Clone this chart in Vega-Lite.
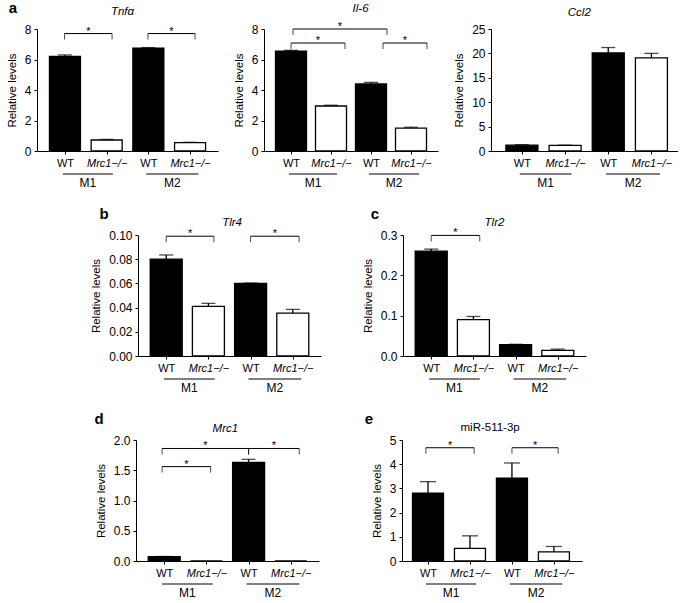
{
  "$schema": "https://vega.github.io/schema/vega-lite/v6.json",
  "padding": {"left": 6, "top": 1, "right": 0, "bottom": 0},
  "datasets": {
    "bars": [
      {"panel": "a1", "pos": 1, "genotype": "WT", "value": 6.2, "hi": 6.3},
      {"panel": "a1", "pos": 2, "genotype": "Mrc1−/−", "value": 0.72, "hi": 0.76},
      {"panel": "a1", "pos": 3, "genotype": "WT", "value": 6.75, "hi": 6.78},
      {"panel": "a1", "pos": 4, "genotype": "Mrc1−/−", "value": 0.55, "hi": 0.57},
      {"panel": "a2", "pos": 1, "genotype": "WT", "value": 6.55, "hi": 6.6},
      {"panel": "a2", "pos": 2, "genotype": "Mrc1−/−", "value": 2.95, "hi": 3.0},
      {"panel": "a2", "pos": 3, "genotype": "WT", "value": 4.4, "hi": 4.5},
      {"panel": "a2", "pos": 4, "genotype": "Mrc1−/−", "value": 1.5, "hi": 1.56},
      {"panel": "a3", "pos": 1, "genotype": "WT", "value": 1.2, "hi": 1.3},
      {"panel": "a3", "pos": 2, "genotype": "Mrc1−/−", "value": 1.15, "hi": 1.2},
      {"panel": "a3", "pos": 3, "genotype": "WT", "value": 20.1, "hi": 21.2},
      {"panel": "a3", "pos": 4, "genotype": "Mrc1−/−", "value": 19.1, "hi": 20.0},
      {"panel": "b", "pos": 1, "genotype": "WT", "value": 0.080, "hi": 0.0835},
      {"panel": "b", "pos": 2, "genotype": "Mrc1−/−", "value": 0.041, "hi": 0.0435},
      {"panel": "b", "pos": 3, "genotype": "WT", "value": 0.060, "hi": 0.0603},
      {"panel": "b", "pos": 4, "genotype": "Mrc1−/−", "value": 0.0355, "hi": 0.0385},
      {"panel": "c", "pos": 1, "genotype": "WT", "value": 0.260, "hi": 0.265},
      {"panel": "c", "pos": 2, "genotype": "Mrc1−/−", "value": 0.090, "hi": 0.098},
      {"panel": "c", "pos": 3, "genotype": "WT", "value": 0.028, "hi": 0.029},
      {"panel": "c", "pos": 4, "genotype": "Mrc1−/−", "value": 0.014, "hi": 0.017},
      {"panel": "d", "pos": 1, "genotype": "WT", "value": 0.07, "hi": 0.075},
      {"panel": "d", "pos": 2, "genotype": "Mrc1−/−", "value": 0, "hi": null},
      {"panel": "d", "pos": 3, "genotype": "WT", "value": 1.63, "hi": 1.68},
      {"panel": "d", "pos": 4, "genotype": "Mrc1−/−", "value": 0, "hi": null},
      {"panel": "e", "pos": 1, "genotype": "WT", "value": 2.8, "hi": 3.28},
      {"panel": "e", "pos": 2, "genotype": "Mrc1−/−", "value": 0.52, "hi": 1.04},
      {"panel": "e", "pos": 3, "genotype": "WT", "value": 3.42, "hi": 4.05},
      {"panel": "e", "pos": 4, "genotype": "Mrc1−/−", "value": 0.38, "hi": 0.6}
    ],
    "brackets": [
      {"panel": "a1", "x1": 0.99, "x2": 2.13, "xm": 1.56, "y": 7.7},
      {"panel": "a1", "x1": 2.99, "x2": 4.12, "xm": 3.555, "y": 7.7},
      {"panel": "a2", "x1": 1.0, "x2": 2.35, "xm": 1.675, "y": 7.08},
      {"panel": "a2", "x1": 1.05, "x2": 3.4, "xm": 2.225, "y": 8.0},
      {"panel": "a2", "x1": 3.3, "x2": 4.4, "xm": 3.85, "y": 7.08},
      {"panel": "b", "x1": 1.0, "x2": 2.13, "xm": 1.565, "y": 0.099},
      {"panel": "b", "x1": 3.0, "x2": 4.15, "xm": 3.575, "y": 0.099},
      {"panel": "c", "x1": 1.0, "x2": 2.15, "xm": 1.575, "y": 0.299},
      {"panel": "d", "x1": 0.95, "x2": 2.1, "xm": 1.525, "y": 1.56},
      {"panel": "d", "x1": 0.95, "x2": 3.0, "xm": 1.975, "y": 1.86},
      {"panel": "d", "x1": 3.0, "x2": 4.2, "xm": 3.6, "y": 1.86},
      {"panel": "e", "x1": 0.95, "x2": 2.1, "xm": 1.525, "y": 4.68},
      {"panel": "e", "x1": 3.0, "x2": 4.1, "xm": 3.55, "y": 4.68}
    ],
    "groups": [
      {"g": "M1", "x1": 0.95, "x2": 2.15, "xm": 1.55},
      {"g": "M2", "x1": 2.95, "x2": 4.2, "xm": 3.575}
    ]
  },
  "spacing": 18,
  "vconcat": [
    {
      "spacing": 15,
      "align": "none",
      "hconcat": [
        {
          "width": 181, "height": 122,
          "layer": [
            {"data": {"name": "bars"}, "transform": [{"filter": "datum.panel == 'a1'"}],
             "mark": {"type": "bar", "orient": "vertical", "width": 31, "stroke": "#000", "strokeWidth": 1.3},
             "encoding": {
               "x": {"field": "pos", "type": "quantitative", "title": null, "scale": {"domain": [0.45, 4.55], "nice": false, "zero": false}, "axis": {"values": [1, 2, 3, 4], "labelExpr": "datum.value == 1 || datum.value == 3 ? 'WT' : 'Mrc1−/−'", "labelFontStyle": {"condition": {"test": "datum.value == 2 || datum.value == 4", "value": "italic"}, "value": "normal"}}},
               "y": {"field": "value", "type": "quantitative", "title": "Relative levels", "scale": {"domain": [0, 8], "nice": false}, "axis": {"values": [0, 2, 4, 6, 8]}},
               "fill": {"field": "genotype", "type": "nominal", "scale": {"domain": ["WT", "Mrc1−/−"], "range": ["#000000", "#ffffff"]}, "legend": null}
             }},
            {"data": {"name": "bars"}, "transform": [{"filter": "datum.panel == 'a1' && datum.hi != null"}],
             "mark": {"type": "rule", "color": "#000", "strokeWidth": 1.3},
             "encoding": {"x": {"field": "pos", "type": "quantitative", "title": null, "axis": {"values": [1, 2, 3, 4], "labelExpr": "datum.value == 1 || datum.value == 3 ? 'WT' : 'Mrc1−/−'", "labelFontStyle": {"condition": {"test": "datum.value == 2 || datum.value == 4", "value": "italic"}, "value": "normal"}}}, "y": {"field": "value", "type": "quantitative", "title": "Relative levels", "axis": {"values": [0, 2, 4, 6, 8]}}, "y2": {"field": "hi"}}},
            {"data": {"name": "bars"}, "transform": [{"filter": "datum.panel == 'a1' && datum.hi != null"}],
             "mark": {"type": "tick", "orient": "horizontal", "size": 14, "thickness": 1.3, "color": "#000"},
             "encoding": {"x": {"field": "pos", "type": "quantitative", "title": null, "axis": {"values": [1, 2, 3, 4], "labelExpr": "datum.value == 1 || datum.value == 3 ? 'WT' : 'Mrc1−/−'", "labelFontStyle": {"condition": {"test": "datum.value == 2 || datum.value == 4", "value": "italic"}, "value": "normal"}}}, "y": {"field": "hi", "type": "quantitative", "title": "Relative levels", "axis": {"values": [0, 2, 4, 6, 8]}}}},
            {"data": {"name": "groups"},
             "mark": {"type": "rule", "yOffset": 23, "color": "#000", "strokeWidth": 1},
             "encoding": {"x": {"field": "x1", "type": "quantitative", "title": null, "axis": {"values": [1, 2, 3, 4], "labelExpr": "datum.value == 1 || datum.value == 3 ? 'WT' : 'Mrc1−/−'", "labelFontStyle": {"condition": {"test": "datum.value == 2 || datum.value == 4", "value": "italic"}, "value": "normal"}}}, "x2": {"field": "x2"}, "y": {"datum": 0, "type": "quantitative", "title": "Relative levels", "axis": {"values": [0, 2, 4, 6, 8]}}}},
            {"data": {"name": "groups"},
             "mark": {"type": "text", "dy": 32, "fontSize": 12, "baseline": "middle", "color": "#000"},
             "encoding": {"x": {"field": "xm", "type": "quantitative", "title": null, "axis": {"values": [1, 2, 3, 4], "labelExpr": "datum.value == 1 || datum.value == 3 ? 'WT' : 'Mrc1−/−'", "labelFontStyle": {"condition": {"test": "datum.value == 2 || datum.value == 4", "value": "italic"}, "value": "normal"}}}, "y": {"datum": 0, "type": "quantitative", "title": "Relative levels", "axis": {"values": [0, 2, 4, 6, 8]}}, "text": {"field": "g"}}},
            {"data": {"name": "brackets"}, "transform": [{"filter": "datum.panel == 'a1'"}],
             "mark": {"type": "rule", "color": "#000", "strokeWidth": 1},
             "encoding": {"x": {"field": "x1", "type": "quantitative", "title": null, "axis": {"values": [1, 2, 3, 4], "labelExpr": "datum.value == 1 || datum.value == 3 ? 'WT' : 'Mrc1−/−'", "labelFontStyle": {"condition": {"test": "datum.value == 2 || datum.value == 4", "value": "italic"}, "value": "normal"}}}, "x2": {"field": "x2"}, "y": {"field": "y", "type": "quantitative", "title": "Relative levels", "axis": {"values": [0, 2, 4, 6, 8]}}}},
            {"data": {"name": "brackets"}, "transform": [{"filter": "datum.panel == 'a1'"}],
             "mark": {"type": "tick", "orient": "vertical", "size": 6, "thickness": 1, "yOffset": 3, "color": "#000"},
             "encoding": {"x": {"field": "x1", "type": "quantitative", "title": null, "axis": {"values": [1, 2, 3, 4], "labelExpr": "datum.value == 1 || datum.value == 3 ? 'WT' : 'Mrc1−/−'", "labelFontStyle": {"condition": {"test": "datum.value == 2 || datum.value == 4", "value": "italic"}, "value": "normal"}}}, "y": {"field": "y", "type": "quantitative", "title": "Relative levels", "axis": {"values": [0, 2, 4, 6, 8]}}}},
            {"data": {"name": "brackets"}, "transform": [{"filter": "datum.panel == 'a1'"}],
             "mark": {"type": "tick", "orient": "vertical", "size": 6, "thickness": 1, "yOffset": 3, "color": "#000"},
             "encoding": {"x": {"field": "x2", "type": "quantitative", "title": null, "axis": {"values": [1, 2, 3, 4], "labelExpr": "datum.value == 1 || datum.value == 3 ? 'WT' : 'Mrc1−/−'", "labelFontStyle": {"condition": {"test": "datum.value == 2 || datum.value == 4", "value": "italic"}, "value": "normal"}}}, "y": {"field": "y", "type": "quantitative", "title": "Relative levels", "axis": {"values": [0, 2, 4, 6, 8]}}}},
            {"data": {"name": "brackets"}, "transform": [{"filter": "datum.panel == 'a1'"}],
             "mark": {"type": "text", "text": "*", "fontSize": 11, "dy": 1, "baseline": "alphabetic", "color": "#000"},
             "encoding": {"x": {"field": "xm", "type": "quantitative", "title": null, "axis": {"values": [1, 2, 3, 4], "labelExpr": "datum.value == 1 || datum.value == 3 ? 'WT' : 'Mrc1−/−'", "labelFontStyle": {"condition": {"test": "datum.value == 2 || datum.value == 4", "value": "italic"}, "value": "normal"}}}, "y": {"field": "y", "type": "quantitative", "title": "Relative levels", "axis": {"values": [0, 2, 4, 6, 8]}}}},
            {"data": {"values": [{"t": "Tnfα", "gx": 2.38, "gy": 8}]},
             "mark": {"type": "text", "fontStyle": "italic", "fontSize": 11.5, "dy": -17.5, "align": "center", "baseline": "middle", "color": "#000"},
             "encoding": {"x": {"field": "gx", "type": "quantitative", "title": null, "axis": {"values": [1, 2, 3, 4], "labelExpr": "datum.value == 1 || datum.value == 3 ? 'WT' : 'Mrc1−/−'", "labelFontStyle": {"condition": {"test": "datum.value == 2 || datum.value == 4", "value": "italic"}, "value": "normal"}}}, "y": {"field": "gy", "type": "quantitative", "title": "Relative levels", "axis": {"values": [0, 2, 4, 6, 8]}}, "text": {"field": "t"}}},
            {"data": {"values": [{"t": "a", "gx": 0.45, "gy": 8}]},
             "mark": {"type": "text", "fontWeight": "bold", "fontSize": 15, "dx": -29, "dy": -21, "align": "center", "baseline": "middle", "color": "#000"},
             "encoding": {"x": {"field": "gx", "type": "quantitative", "title": null, "axis": {"values": [1, 2, 3, 4], "labelExpr": "datum.value == 1 || datum.value == 3 ? 'WT' : 'Mrc1−/−'", "labelFontStyle": {"condition": {"test": "datum.value == 2 || datum.value == 4", "value": "italic"}, "value": "normal"}}}, "y": {"field": "gy", "type": "quantitative", "title": "Relative levels", "axis": {"values": [0, 2, 4, 6, 8]}}, "text": {"field": "t"}}}
          ]
        },
        {
          "width": 174, "height": 122,
          "layer": [
            {"data": {"name": "bars"}, "transform": [{"filter": "datum.panel == 'a2'"}],
             "mark": {"type": "bar", "orient": "vertical", "width": 31, "stroke": "#000", "strokeWidth": 1.3},
             "encoding": {
               "x": {"field": "pos", "type": "quantitative", "title": null, "scale": {"domain": [0.45, 4.55], "nice": false, "zero": false}, "axis": {"values": [1, 2, 3, 4], "labelExpr": "datum.value == 1 || datum.value == 3 ? 'WT' : 'Mrc1−/−'", "labelFontStyle": {"condition": {"test": "datum.value == 2 || datum.value == 4", "value": "italic"}, "value": "normal"}}},
               "y": {"field": "value", "type": "quantitative", "title": "Relative levels", "scale": {"domain": [0, 8], "nice": false}, "axis": {"values": [0, 2, 4, 6, 8]}},
               "fill": {"field": "genotype", "type": "nominal", "scale": {"domain": ["WT", "Mrc1−/−"], "range": ["#000000", "#ffffff"]}, "legend": null}
             }},
            {"data": {"name": "bars"}, "transform": [{"filter": "datum.panel == 'a2' && datum.hi != null"}],
             "mark": {"type": "rule", "color": "#000", "strokeWidth": 1.3},
             "encoding": {"x": {"field": "pos", "type": "quantitative", "title": null, "axis": {"values": [1, 2, 3, 4], "labelExpr": "datum.value == 1 || datum.value == 3 ? 'WT' : 'Mrc1−/−'", "labelFontStyle": {"condition": {"test": "datum.value == 2 || datum.value == 4", "value": "italic"}, "value": "normal"}}}, "y": {"field": "value", "type": "quantitative", "title": "Relative levels", "axis": {"values": [0, 2, 4, 6, 8]}}, "y2": {"field": "hi"}}},
            {"data": {"name": "bars"}, "transform": [{"filter": "datum.panel == 'a2' && datum.hi != null"}],
             "mark": {"type": "tick", "orient": "horizontal", "size": 14, "thickness": 1.3, "color": "#000"},
             "encoding": {"x": {"field": "pos", "type": "quantitative", "title": null, "axis": {"values": [1, 2, 3, 4], "labelExpr": "datum.value == 1 || datum.value == 3 ? 'WT' : 'Mrc1−/−'", "labelFontStyle": {"condition": {"test": "datum.value == 2 || datum.value == 4", "value": "italic"}, "value": "normal"}}}, "y": {"field": "hi", "type": "quantitative", "title": "Relative levels", "axis": {"values": [0, 2, 4, 6, 8]}}}},
            {"data": {"name": "groups"},
             "mark": {"type": "rule", "yOffset": 23, "color": "#000", "strokeWidth": 1},
             "encoding": {"x": {"field": "x1", "type": "quantitative", "title": null, "axis": {"values": [1, 2, 3, 4], "labelExpr": "datum.value == 1 || datum.value == 3 ? 'WT' : 'Mrc1−/−'", "labelFontStyle": {"condition": {"test": "datum.value == 2 || datum.value == 4", "value": "italic"}, "value": "normal"}}}, "x2": {"field": "x2"}, "y": {"datum": 0, "type": "quantitative", "title": "Relative levels", "axis": {"values": [0, 2, 4, 6, 8]}}}},
            {"data": {"name": "groups"},
             "mark": {"type": "text", "dy": 32, "fontSize": 12, "baseline": "middle", "color": "#000"},
             "encoding": {"x": {"field": "xm", "type": "quantitative", "title": null, "axis": {"values": [1, 2, 3, 4], "labelExpr": "datum.value == 1 || datum.value == 3 ? 'WT' : 'Mrc1−/−'", "labelFontStyle": {"condition": {"test": "datum.value == 2 || datum.value == 4", "value": "italic"}, "value": "normal"}}}, "y": {"datum": 0, "type": "quantitative", "title": "Relative levels", "axis": {"values": [0, 2, 4, 6, 8]}}, "text": {"field": "g"}}},
            {"data": {"name": "brackets"}, "transform": [{"filter": "datum.panel == 'a2'"}],
             "mark": {"type": "rule", "color": "#000", "strokeWidth": 1},
             "encoding": {"x": {"field": "x1", "type": "quantitative", "title": null, "axis": {"values": [1, 2, 3, 4], "labelExpr": "datum.value == 1 || datum.value == 3 ? 'WT' : 'Mrc1−/−'", "labelFontStyle": {"condition": {"test": "datum.value == 2 || datum.value == 4", "value": "italic"}, "value": "normal"}}}, "x2": {"field": "x2"}, "y": {"field": "y", "type": "quantitative", "title": "Relative levels", "axis": {"values": [0, 2, 4, 6, 8]}}}},
            {"data": {"name": "brackets"}, "transform": [{"filter": "datum.panel == 'a2'"}],
             "mark": {"type": "tick", "orient": "vertical", "size": 6, "thickness": 1, "yOffset": 3, "color": "#000"},
             "encoding": {"x": {"field": "x1", "type": "quantitative", "title": null, "axis": {"values": [1, 2, 3, 4], "labelExpr": "datum.value == 1 || datum.value == 3 ? 'WT' : 'Mrc1−/−'", "labelFontStyle": {"condition": {"test": "datum.value == 2 || datum.value == 4", "value": "italic"}, "value": "normal"}}}, "y": {"field": "y", "type": "quantitative", "title": "Relative levels", "axis": {"values": [0, 2, 4, 6, 8]}}}},
            {"data": {"name": "brackets"}, "transform": [{"filter": "datum.panel == 'a2'"}],
             "mark": {"type": "tick", "orient": "vertical", "size": 6, "thickness": 1, "yOffset": 3, "color": "#000"},
             "encoding": {"x": {"field": "x2", "type": "quantitative", "title": null, "axis": {"values": [1, 2, 3, 4], "labelExpr": "datum.value == 1 || datum.value == 3 ? 'WT' : 'Mrc1−/−'", "labelFontStyle": {"condition": {"test": "datum.value == 2 || datum.value == 4", "value": "italic"}, "value": "normal"}}}, "y": {"field": "y", "type": "quantitative", "title": "Relative levels", "axis": {"values": [0, 2, 4, 6, 8]}}}},
            {"data": {"name": "brackets"}, "transform": [{"filter": "datum.panel == 'a2'"}],
             "mark": {"type": "text", "text": "*", "fontSize": 11, "dy": 1, "baseline": "alphabetic", "color": "#000"},
             "encoding": {"x": {"field": "xm", "type": "quantitative", "title": null, "axis": {"values": [1, 2, 3, 4], "labelExpr": "datum.value == 1 || datum.value == 3 ? 'WT' : 'Mrc1−/−'", "labelFontStyle": {"condition": {"test": "datum.value == 2 || datum.value == 4", "value": "italic"}, "value": "normal"}}}, "y": {"field": "y", "type": "quantitative", "title": "Relative levels", "axis": {"values": [0, 2, 4, 6, 8]}}}},
            {"data": {"values": [{"t": "Il-6", "gx": 2.74, "gy": 8}]},
             "mark": {"type": "text", "fontStyle": "italic", "fontSize": 11.5, "dy": -20, "align": "center", "baseline": "middle", "color": "#000"},
             "encoding": {"x": {"field": "gx", "type": "quantitative", "title": null, "axis": {"values": [1, 2, 3, 4], "labelExpr": "datum.value == 1 || datum.value == 3 ? 'WT' : 'Mrc1−/−'", "labelFontStyle": {"condition": {"test": "datum.value == 2 || datum.value == 4", "value": "italic"}, "value": "normal"}}}, "y": {"field": "gy", "type": "quantitative", "title": "Relative levels", "axis": {"values": [0, 2, 4, 6, 8]}}, "text": {"field": "t"}}}
          ]
        },
        {
          "width": 187, "height": 122,
          "layer": [
            {"data": {"name": "bars"}, "transform": [{"filter": "datum.panel == 'a3'"}],
             "mark": {"type": "bar", "orient": "vertical", "width": 32, "stroke": "#000", "strokeWidth": 1.3},
             "encoding": {
               "x": {"field": "pos", "type": "quantitative", "title": null, "scale": {"domain": [0.4, 4.5], "nice": false, "zero": false}, "axis": {"values": [1, 2, 3, 4], "labelExpr": "datum.value == 1 || datum.value == 3 ? 'WT' : 'Mrc1−/−'", "labelFontStyle": {"condition": {"test": "datum.value == 2 || datum.value == 4", "value": "italic"}, "value": "normal"}}},
               "y": {"field": "value", "type": "quantitative", "title": "Relative levels", "scale": {"domain": [0, 25], "nice": false}, "axis": {"values": [0, 5, 10, 15, 20, 25]}},
               "fill": {"field": "genotype", "type": "nominal", "scale": {"domain": ["WT", "Mrc1−/−"], "range": ["#000000", "#ffffff"]}, "legend": null}
             }},
            {"data": {"name": "bars"}, "transform": [{"filter": "datum.panel == 'a3' && datum.hi != null"}],
             "mark": {"type": "rule", "color": "#000", "strokeWidth": 1.3},
             "encoding": {"x": {"field": "pos", "type": "quantitative", "title": null, "axis": {"values": [1, 2, 3, 4], "labelExpr": "datum.value == 1 || datum.value == 3 ? 'WT' : 'Mrc1−/−'", "labelFontStyle": {"condition": {"test": "datum.value == 2 || datum.value == 4", "value": "italic"}, "value": "normal"}}}, "y": {"field": "value", "type": "quantitative", "title": "Relative levels", "axis": {"values": [0, 5, 10, 15, 20, 25]}}, "y2": {"field": "hi"}}},
            {"data": {"name": "bars"}, "transform": [{"filter": "datum.panel == 'a3' && datum.hi != null"}],
             "mark": {"type": "tick", "orient": "horizontal", "size": 14, "thickness": 1.3, "color": "#000"},
             "encoding": {"x": {"field": "pos", "type": "quantitative", "title": null, "axis": {"values": [1, 2, 3, 4], "labelExpr": "datum.value == 1 || datum.value == 3 ? 'WT' : 'Mrc1−/−'", "labelFontStyle": {"condition": {"test": "datum.value == 2 || datum.value == 4", "value": "italic"}, "value": "normal"}}}, "y": {"field": "hi", "type": "quantitative", "title": "Relative levels", "axis": {"values": [0, 5, 10, 15, 20, 25]}}}},
            {"data": {"name": "groups"},
             "mark": {"type": "rule", "yOffset": 23, "color": "#000", "strokeWidth": 1},
             "encoding": {"x": {"field": "x1", "type": "quantitative", "title": null, "axis": {"values": [1, 2, 3, 4], "labelExpr": "datum.value == 1 || datum.value == 3 ? 'WT' : 'Mrc1−/−'", "labelFontStyle": {"condition": {"test": "datum.value == 2 || datum.value == 4", "value": "italic"}, "value": "normal"}}}, "x2": {"field": "x2"}, "y": {"datum": 0, "type": "quantitative", "title": "Relative levels", "axis": {"values": [0, 5, 10, 15, 20, 25]}}}},
            {"data": {"name": "groups"},
             "mark": {"type": "text", "dy": 32, "fontSize": 12, "baseline": "middle", "color": "#000"},
             "encoding": {"x": {"field": "xm", "type": "quantitative", "title": null, "axis": {"values": [1, 2, 3, 4], "labelExpr": "datum.value == 1 || datum.value == 3 ? 'WT' : 'Mrc1−/−'", "labelFontStyle": {"condition": {"test": "datum.value == 2 || datum.value == 4", "value": "italic"}, "value": "normal"}}}, "y": {"datum": 0, "type": "quantitative", "title": "Relative levels", "axis": {"values": [0, 5, 10, 15, 20, 25]}}, "text": {"field": "g"}}},
            {"data": {"values": [{"t": "Ccl2", "gx": 2.33, "gy": 25}]},
             "mark": {"type": "text", "fontStyle": "italic", "fontSize": 11.5, "dy": -16.5, "align": "center", "baseline": "middle", "color": "#000"},
             "encoding": {"x": {"field": "gx", "type": "quantitative", "title": null, "axis": {"values": [1, 2, 3, 4], "labelExpr": "datum.value == 1 || datum.value == 3 ? 'WT' : 'Mrc1−/−'", "labelFontStyle": {"condition": {"test": "datum.value == 2 || datum.value == 4", "value": "italic"}, "value": "normal"}}}, "y": {"field": "gy", "type": "quantitative", "title": "Relative levels", "axis": {"values": [0, 5, 10, 15, 20, 25]}}, "text": {"field": "t"}}}
          ]
        }
      ]
    },
    {
      "spacing": 41,
      "align": "none",
      "hconcat": [
        {"width": 12, "height": 10, "data": {"values": [{"t": ""}]}, "mark": {"type": "text", "opacity": 0}, "encoding": {"text": {"field": "t"}}},
        {
          "width": 183, "height": 121,
          "layer": [
            {"data": {"name": "bars"}, "transform": [{"filter": "datum.panel == 'b'"}],
             "mark": {"type": "bar", "orient": "vertical", "width": 32, "stroke": "#000", "strokeWidth": 1.3},
             "encoding": {
               "x": {"field": "pos", "type": "quantitative", "title": null, "scale": {"domain": [0.45, 4.55], "nice": false, "zero": false}, "axis": {"values": [1, 2, 3, 4], "labelExpr": "datum.value == 1 || datum.value == 3 ? 'WT' : 'Mrc1−/−'", "labelFontStyle": {"condition": {"test": "datum.value == 2 || datum.value == 4", "value": "italic"}, "value": "normal"}}},
               "y": {"field": "value", "type": "quantitative", "title": "Relative levels", "scale": {"domain": [0, 0.1], "nice": false}, "axis": {"values": [0, 0.02, 0.04, 0.06, 0.08, 0.1], "format": ".2f"}},
               "fill": {"field": "genotype", "type": "nominal", "scale": {"domain": ["WT", "Mrc1−/−"], "range": ["#000000", "#ffffff"]}, "legend": null}
             }},
            {"data": {"name": "bars"}, "transform": [{"filter": "datum.panel == 'b' && datum.hi != null"}],
             "mark": {"type": "rule", "color": "#000", "strokeWidth": 1.3},
             "encoding": {"x": {"field": "pos", "type": "quantitative", "title": null, "axis": {"values": [1, 2, 3, 4], "labelExpr": "datum.value == 1 || datum.value == 3 ? 'WT' : 'Mrc1−/−'", "labelFontStyle": {"condition": {"test": "datum.value == 2 || datum.value == 4", "value": "italic"}, "value": "normal"}}}, "y": {"field": "value", "type": "quantitative", "title": "Relative levels", "axis": {"values": [0, 0.02, 0.04, 0.06, 0.08, 0.1], "format": ".2f"}}, "y2": {"field": "hi"}}},
            {"data": {"name": "bars"}, "transform": [{"filter": "datum.panel == 'b' && datum.hi != null"}],
             "mark": {"type": "tick", "orient": "horizontal", "size": 14, "thickness": 1.3, "color": "#000"},
             "encoding": {"x": {"field": "pos", "type": "quantitative", "title": null, "axis": {"values": [1, 2, 3, 4], "labelExpr": "datum.value == 1 || datum.value == 3 ? 'WT' : 'Mrc1−/−'", "labelFontStyle": {"condition": {"test": "datum.value == 2 || datum.value == 4", "value": "italic"}, "value": "normal"}}}, "y": {"field": "hi", "type": "quantitative", "title": "Relative levels", "axis": {"values": [0, 0.02, 0.04, 0.06, 0.08, 0.1], "format": ".2f"}}}},
            {"data": {"name": "groups"},
             "mark": {"type": "rule", "yOffset": 23, "color": "#000", "strokeWidth": 1},
             "encoding": {"x": {"field": "x1", "type": "quantitative", "title": null, "axis": {"values": [1, 2, 3, 4], "labelExpr": "datum.value == 1 || datum.value == 3 ? 'WT' : 'Mrc1−/−'", "labelFontStyle": {"condition": {"test": "datum.value == 2 || datum.value == 4", "value": "italic"}, "value": "normal"}}}, "x2": {"field": "x2"}, "y": {"datum": 0, "type": "quantitative", "title": "Relative levels", "axis": {"values": [0, 0.02, 0.04, 0.06, 0.08, 0.1], "format": ".2f"}}}},
            {"data": {"name": "groups"},
             "mark": {"type": "text", "dy": 32, "fontSize": 12, "baseline": "middle", "color": "#000"},
             "encoding": {"x": {"field": "xm", "type": "quantitative", "title": null, "axis": {"values": [1, 2, 3, 4], "labelExpr": "datum.value == 1 || datum.value == 3 ? 'WT' : 'Mrc1−/−'", "labelFontStyle": {"condition": {"test": "datum.value == 2 || datum.value == 4", "value": "italic"}, "value": "normal"}}}, "y": {"datum": 0, "type": "quantitative", "title": "Relative levels", "axis": {"values": [0, 0.02, 0.04, 0.06, 0.08, 0.1], "format": ".2f"}}, "text": {"field": "g"}}},
            {"data": {"name": "brackets"}, "transform": [{"filter": "datum.panel == 'b'"}],
             "mark": {"type": "rule", "color": "#000", "strokeWidth": 1},
             "encoding": {"x": {"field": "x1", "type": "quantitative", "title": null, "axis": {"values": [1, 2, 3, 4], "labelExpr": "datum.value == 1 || datum.value == 3 ? 'WT' : 'Mrc1−/−'", "labelFontStyle": {"condition": {"test": "datum.value == 2 || datum.value == 4", "value": "italic"}, "value": "normal"}}}, "x2": {"field": "x2"}, "y": {"field": "y", "type": "quantitative", "title": "Relative levels", "axis": {"values": [0, 0.02, 0.04, 0.06, 0.08, 0.1], "format": ".2f"}}}},
            {"data": {"name": "brackets"}, "transform": [{"filter": "datum.panel == 'b'"}],
             "mark": {"type": "tick", "orient": "vertical", "size": 6, "thickness": 1, "yOffset": 3, "color": "#000"},
             "encoding": {"x": {"field": "x1", "type": "quantitative", "title": null, "axis": {"values": [1, 2, 3, 4], "labelExpr": "datum.value == 1 || datum.value == 3 ? 'WT' : 'Mrc1−/−'", "labelFontStyle": {"condition": {"test": "datum.value == 2 || datum.value == 4", "value": "italic"}, "value": "normal"}}}, "y": {"field": "y", "type": "quantitative", "title": "Relative levels", "axis": {"values": [0, 0.02, 0.04, 0.06, 0.08, 0.1], "format": ".2f"}}}},
            {"data": {"name": "brackets"}, "transform": [{"filter": "datum.panel == 'b'"}],
             "mark": {"type": "tick", "orient": "vertical", "size": 6, "thickness": 1, "yOffset": 3, "color": "#000"},
             "encoding": {"x": {"field": "x2", "type": "quantitative", "title": null, "axis": {"values": [1, 2, 3, 4], "labelExpr": "datum.value == 1 || datum.value == 3 ? 'WT' : 'Mrc1−/−'", "labelFontStyle": {"condition": {"test": "datum.value == 2 || datum.value == 4", "value": "italic"}, "value": "normal"}}}, "y": {"field": "y", "type": "quantitative", "title": "Relative levels", "axis": {"values": [0, 0.02, 0.04, 0.06, 0.08, 0.1], "format": ".2f"}}}},
            {"data": {"name": "brackets"}, "transform": [{"filter": "datum.panel == 'b'"}],
             "mark": {"type": "text", "text": "*", "fontSize": 11, "dy": 1, "baseline": "alphabetic", "color": "#000"},
             "encoding": {"x": {"field": "xm", "type": "quantitative", "title": null, "axis": {"values": [1, 2, 3, 4], "labelExpr": "datum.value == 1 || datum.value == 3 ? 'WT' : 'Mrc1−/−'", "labelFontStyle": {"condition": {"test": "datum.value == 2 || datum.value == 4", "value": "italic"}, "value": "normal"}}}, "y": {"field": "y", "type": "quantitative", "title": "Relative levels", "axis": {"values": [0, 0.02, 0.04, 0.06, 0.08, 0.1], "format": ".2f"}}}},
            {"data": {"values": [{"t": "Tlr4", "gx": 2.56, "gy": 0.1}]},
             "mark": {"type": "text", "fontStyle": "italic", "fontSize": 11.5, "dy": -12, "align": "center", "baseline": "middle", "color": "#000"},
             "encoding": {"x": {"field": "gx", "type": "quantitative", "title": null, "axis": {"values": [1, 2, 3, 4], "labelExpr": "datum.value == 1 || datum.value == 3 ? 'WT' : 'Mrc1−/−'", "labelFontStyle": {"condition": {"test": "datum.value == 2 || datum.value == 4", "value": "italic"}, "value": "normal"}}}, "y": {"field": "gy", "type": "quantitative", "title": "Relative levels", "axis": {"values": [0, 0.02, 0.04, 0.06, 0.08, 0.1], "format": ".2f"}}, "text": {"field": "t"}}},
            {"data": {"values": [{"t": "b", "gx": 0.45, "gy": 0.1}]},
             "mark": {"type": "text", "fontWeight": "bold", "fontSize": 15, "dx": -39, "dy": -21, "align": "center", "baseline": "middle", "color": "#000"},
             "encoding": {"x": {"field": "gx", "type": "quantitative", "title": null, "axis": {"values": [1, 2, 3, 4], "labelExpr": "datum.value == 1 || datum.value == 3 ? 'WT' : 'Mrc1−/−'", "labelFontStyle": {"condition": {"test": "datum.value == 2 || datum.value == 4", "value": "italic"}, "value": "normal"}}}, "y": {"field": "gy", "type": "quantitative", "title": "Relative levels", "axis": {"values": [0, 0.02, 0.04, 0.06, 0.08, 0.1], "format": ".2f"}}, "text": {"field": "t"}}}
          ]
        },
        {
          "width": 183, "height": 121,
          "layer": [
            {"data": {"name": "bars"}, "transform": [{"filter": "datum.panel == 'c'"}],
             "mark": {"type": "bar", "orient": "vertical", "width": 32, "stroke": "#000", "strokeWidth": 1.3},
             "encoding": {
               "x": {"field": "pos", "type": "quantitative", "title": null, "scale": {"domain": [0.45, 4.55], "nice": false, "zero": false}, "axis": {"values": [1, 2, 3, 4], "labelExpr": "datum.value == 1 || datum.value == 3 ? 'WT' : 'Mrc1−/−'", "labelFontStyle": {"condition": {"test": "datum.value == 2 || datum.value == 4", "value": "italic"}, "value": "normal"}}},
               "y": {"field": "value", "type": "quantitative", "title": "Relative levels", "scale": {"domain": [0, 0.3], "nice": false}, "axis": {"values": [0, 0.1, 0.2, 0.3], "format": ".1f"}},
               "fill": {"field": "genotype", "type": "nominal", "scale": {"domain": ["WT", "Mrc1−/−"], "range": ["#000000", "#ffffff"]}, "legend": null}
             }},
            {"data": {"name": "bars"}, "transform": [{"filter": "datum.panel == 'c' && datum.hi != null"}],
             "mark": {"type": "rule", "color": "#000", "strokeWidth": 1.3},
             "encoding": {"x": {"field": "pos", "type": "quantitative", "title": null, "axis": {"values": [1, 2, 3, 4], "labelExpr": "datum.value == 1 || datum.value == 3 ? 'WT' : 'Mrc1−/−'", "labelFontStyle": {"condition": {"test": "datum.value == 2 || datum.value == 4", "value": "italic"}, "value": "normal"}}}, "y": {"field": "value", "type": "quantitative", "title": "Relative levels", "axis": {"values": [0, 0.1, 0.2, 0.3], "format": ".1f"}}, "y2": {"field": "hi"}}},
            {"data": {"name": "bars"}, "transform": [{"filter": "datum.panel == 'c' && datum.hi != null"}],
             "mark": {"type": "tick", "orient": "horizontal", "size": 14, "thickness": 1.3, "color": "#000"},
             "encoding": {"x": {"field": "pos", "type": "quantitative", "title": null, "axis": {"values": [1, 2, 3, 4], "labelExpr": "datum.value == 1 || datum.value == 3 ? 'WT' : 'Mrc1−/−'", "labelFontStyle": {"condition": {"test": "datum.value == 2 || datum.value == 4", "value": "italic"}, "value": "normal"}}}, "y": {"field": "hi", "type": "quantitative", "title": "Relative levels", "axis": {"values": [0, 0.1, 0.2, 0.3], "format": ".1f"}}}},
            {"data": {"name": "groups"},
             "mark": {"type": "rule", "yOffset": 23, "color": "#000", "strokeWidth": 1},
             "encoding": {"x": {"field": "x1", "type": "quantitative", "title": null, "axis": {"values": [1, 2, 3, 4], "labelExpr": "datum.value == 1 || datum.value == 3 ? 'WT' : 'Mrc1−/−'", "labelFontStyle": {"condition": {"test": "datum.value == 2 || datum.value == 4", "value": "italic"}, "value": "normal"}}}, "x2": {"field": "x2"}, "y": {"datum": 0, "type": "quantitative", "title": "Relative levels", "axis": {"values": [0, 0.1, 0.2, 0.3], "format": ".1f"}}}},
            {"data": {"name": "groups"},
             "mark": {"type": "text", "dy": 32, "fontSize": 12, "baseline": "middle", "color": "#000"},
             "encoding": {"x": {"field": "xm", "type": "quantitative", "title": null, "axis": {"values": [1, 2, 3, 4], "labelExpr": "datum.value == 1 || datum.value == 3 ? 'WT' : 'Mrc1−/−'", "labelFontStyle": {"condition": {"test": "datum.value == 2 || datum.value == 4", "value": "italic"}, "value": "normal"}}}, "y": {"datum": 0, "type": "quantitative", "title": "Relative levels", "axis": {"values": [0, 0.1, 0.2, 0.3], "format": ".1f"}}, "text": {"field": "g"}}},
            {"data": {"name": "brackets"}, "transform": [{"filter": "datum.panel == 'c'"}],
             "mark": {"type": "rule", "color": "#000", "strokeWidth": 1},
             "encoding": {"x": {"field": "x1", "type": "quantitative", "title": null, "axis": {"values": [1, 2, 3, 4], "labelExpr": "datum.value == 1 || datum.value == 3 ? 'WT' : 'Mrc1−/−'", "labelFontStyle": {"condition": {"test": "datum.value == 2 || datum.value == 4", "value": "italic"}, "value": "normal"}}}, "x2": {"field": "x2"}, "y": {"field": "y", "type": "quantitative", "title": "Relative levels", "axis": {"values": [0, 0.1, 0.2, 0.3], "format": ".1f"}}}},
            {"data": {"name": "brackets"}, "transform": [{"filter": "datum.panel == 'c'"}],
             "mark": {"type": "tick", "orient": "vertical", "size": 6, "thickness": 1, "yOffset": 3, "color": "#000"},
             "encoding": {"x": {"field": "x1", "type": "quantitative", "title": null, "axis": {"values": [1, 2, 3, 4], "labelExpr": "datum.value == 1 || datum.value == 3 ? 'WT' : 'Mrc1−/−'", "labelFontStyle": {"condition": {"test": "datum.value == 2 || datum.value == 4", "value": "italic"}, "value": "normal"}}}, "y": {"field": "y", "type": "quantitative", "title": "Relative levels", "axis": {"values": [0, 0.1, 0.2, 0.3], "format": ".1f"}}}},
            {"data": {"name": "brackets"}, "transform": [{"filter": "datum.panel == 'c'"}],
             "mark": {"type": "tick", "orient": "vertical", "size": 6, "thickness": 1, "yOffset": 3, "color": "#000"},
             "encoding": {"x": {"field": "x2", "type": "quantitative", "title": null, "axis": {"values": [1, 2, 3, 4], "labelExpr": "datum.value == 1 || datum.value == 3 ? 'WT' : 'Mrc1−/−'", "labelFontStyle": {"condition": {"test": "datum.value == 2 || datum.value == 4", "value": "italic"}, "value": "normal"}}}, "y": {"field": "y", "type": "quantitative", "title": "Relative levels", "axis": {"values": [0, 0.1, 0.2, 0.3], "format": ".1f"}}}},
            {"data": {"name": "brackets"}, "transform": [{"filter": "datum.panel == 'c'"}],
             "mark": {"type": "text", "text": "*", "fontSize": 11, "dy": 1, "baseline": "alphabetic", "color": "#000"},
             "encoding": {"x": {"field": "xm", "type": "quantitative", "title": null, "axis": {"values": [1, 2, 3, 4], "labelExpr": "datum.value == 1 || datum.value == 3 ? 'WT' : 'Mrc1−/−'", "labelFontStyle": {"condition": {"test": "datum.value == 2 || datum.value == 4", "value": "italic"}, "value": "normal"}}}, "y": {"field": "y", "type": "quantitative", "title": "Relative levels", "axis": {"values": [0, 0.1, 0.2, 0.3], "format": ".1f"}}}},
            {"data": {"values": [{"t": "Tlr2", "gx": 2.5, "gy": 0.3}]},
             "mark": {"type": "text", "fontStyle": "italic", "fontSize": 11.5, "dy": -12, "align": "center", "baseline": "middle", "color": "#000"},
             "encoding": {"x": {"field": "gx", "type": "quantitative", "title": null, "axis": {"values": [1, 2, 3, 4], "labelExpr": "datum.value == 1 || datum.value == 3 ? 'WT' : 'Mrc1−/−'", "labelFontStyle": {"condition": {"test": "datum.value == 2 || datum.value == 4", "value": "italic"}, "value": "normal"}}}, "y": {"field": "gy", "type": "quantitative", "title": "Relative levels", "axis": {"values": [0, 0.1, 0.2, 0.3], "format": ".1f"}}, "text": {"field": "t"}}},
            {"data": {"values": [{"t": "c", "gx": 0.45, "gy": 0.3}]},
             "mark": {"type": "text", "fontWeight": "bold", "fontSize": 15, "dx": -33, "dy": -21, "align": "center", "baseline": "middle", "color": "#000"},
             "encoding": {"x": {"field": "gx", "type": "quantitative", "title": null, "axis": {"values": [1, 2, 3, 4], "labelExpr": "datum.value == 1 || datum.value == 3 ? 'WT' : 'Mrc1−/−'", "labelFontStyle": {"condition": {"test": "datum.value == 2 || datum.value == 4", "value": "italic"}, "value": "normal"}}}, "y": {"field": "gy", "type": "quantitative", "title": "Relative levels", "axis": {"values": [0, 0.1, 0.2, 0.3], "format": ".1f"}}, "text": {"field": "t"}}}
          ]
        }
      ]
    },
    {
      "spacing": 45,
      "align": "none",
      "hconcat": [
        {"width": 12, "height": 10, "data": {"values": [{"t": ""}]}, "mark": {"type": "text", "opacity": 0}, "encoding": {"text": {"field": "t"}}},
        {
          "width": 183, "height": 121,
          "layer": [
            {"data": {"name": "bars"}, "transform": [{"filter": "datum.panel == 'd'"}],
             "mark": {"type": "bar", "orient": "vertical", "width": 32, "stroke": "#000", "strokeWidth": 1.3},
             "encoding": {
               "x": {"field": "pos", "type": "quantitative", "title": null, "scale": {"domain": [0.45, 4.55], "nice": false, "zero": false}, "axis": {"values": [1, 2, 3, 4], "labelExpr": "datum.value == 1 || datum.value == 3 ? 'WT' : 'Mrc1−/−'", "labelFontStyle": {"condition": {"test": "datum.value == 2 || datum.value == 4", "value": "italic"}, "value": "normal"}}},
               "y": {"field": "value", "type": "quantitative", "title": "Relative levels", "scale": {"domain": [0, 2], "nice": false}, "axis": {"values": [0, 0.5, 1, 1.5, 2], "format": ".1f"}},
               "fill": {"field": "genotype", "type": "nominal", "scale": {"domain": ["WT", "Mrc1−/−"], "range": ["#000000", "#ffffff"]}, "legend": null}
             }},
            {"data": {"name": "bars"}, "transform": [{"filter": "datum.panel == 'd' && datum.hi != null"}],
             "mark": {"type": "rule", "color": "#000", "strokeWidth": 1.3},
             "encoding": {"x": {"field": "pos", "type": "quantitative", "title": null, "axis": {"values": [1, 2, 3, 4], "labelExpr": "datum.value == 1 || datum.value == 3 ? 'WT' : 'Mrc1−/−'", "labelFontStyle": {"condition": {"test": "datum.value == 2 || datum.value == 4", "value": "italic"}, "value": "normal"}}}, "y": {"field": "value", "type": "quantitative", "title": "Relative levels", "axis": {"values": [0, 0.5, 1, 1.5, 2], "format": ".1f"}}, "y2": {"field": "hi"}}},
            {"data": {"name": "bars"}, "transform": [{"filter": "datum.panel == 'd' && datum.hi != null"}],
             "mark": {"type": "tick", "orient": "horizontal", "size": 14, "thickness": 1.3, "color": "#000"},
             "encoding": {"x": {"field": "pos", "type": "quantitative", "title": null, "axis": {"values": [1, 2, 3, 4], "labelExpr": "datum.value == 1 || datum.value == 3 ? 'WT' : 'Mrc1−/−'", "labelFontStyle": {"condition": {"test": "datum.value == 2 || datum.value == 4", "value": "italic"}, "value": "normal"}}}, "y": {"field": "hi", "type": "quantitative", "title": "Relative levels", "axis": {"values": [0, 0.5, 1, 1.5, 2], "format": ".1f"}}}},
            {"data": {"name": "groups"},
             "mark": {"type": "rule", "yOffset": 23, "color": "#000", "strokeWidth": 1},
             "encoding": {"x": {"field": "x1", "type": "quantitative", "title": null, "axis": {"values": [1, 2, 3, 4], "labelExpr": "datum.value == 1 || datum.value == 3 ? 'WT' : 'Mrc1−/−'", "labelFontStyle": {"condition": {"test": "datum.value == 2 || datum.value == 4", "value": "italic"}, "value": "normal"}}}, "x2": {"field": "x2"}, "y": {"datum": 0, "type": "quantitative", "title": "Relative levels", "axis": {"values": [0, 0.5, 1, 1.5, 2], "format": ".1f"}}}},
            {"data": {"name": "groups"},
             "mark": {"type": "text", "dy": 32, "fontSize": 12, "baseline": "middle", "color": "#000"},
             "encoding": {"x": {"field": "xm", "type": "quantitative", "title": null, "axis": {"values": [1, 2, 3, 4], "labelExpr": "datum.value == 1 || datum.value == 3 ? 'WT' : 'Mrc1−/−'", "labelFontStyle": {"condition": {"test": "datum.value == 2 || datum.value == 4", "value": "italic"}, "value": "normal"}}}, "y": {"datum": 0, "type": "quantitative", "title": "Relative levels", "axis": {"values": [0, 0.5, 1, 1.5, 2], "format": ".1f"}}, "text": {"field": "g"}}},
            {"data": {"name": "brackets"}, "transform": [{"filter": "datum.panel == 'd'"}],
             "mark": {"type": "rule", "color": "#000", "strokeWidth": 1},
             "encoding": {"x": {"field": "x1", "type": "quantitative", "title": null, "axis": {"values": [1, 2, 3, 4], "labelExpr": "datum.value == 1 || datum.value == 3 ? 'WT' : 'Mrc1−/−'", "labelFontStyle": {"condition": {"test": "datum.value == 2 || datum.value == 4", "value": "italic"}, "value": "normal"}}}, "x2": {"field": "x2"}, "y": {"field": "y", "type": "quantitative", "title": "Relative levels", "axis": {"values": [0, 0.5, 1, 1.5, 2], "format": ".1f"}}}},
            {"data": {"name": "brackets"}, "transform": [{"filter": "datum.panel == 'd'"}],
             "mark": {"type": "tick", "orient": "vertical", "size": 6, "thickness": 1, "yOffset": 3, "color": "#000"},
             "encoding": {"x": {"field": "x1", "type": "quantitative", "title": null, "axis": {"values": [1, 2, 3, 4], "labelExpr": "datum.value == 1 || datum.value == 3 ? 'WT' : 'Mrc1−/−'", "labelFontStyle": {"condition": {"test": "datum.value == 2 || datum.value == 4", "value": "italic"}, "value": "normal"}}}, "y": {"field": "y", "type": "quantitative", "title": "Relative levels", "axis": {"values": [0, 0.5, 1, 1.5, 2], "format": ".1f"}}}},
            {"data": {"name": "brackets"}, "transform": [{"filter": "datum.panel == 'd'"}],
             "mark": {"type": "tick", "orient": "vertical", "size": 6, "thickness": 1, "yOffset": 3, "color": "#000"},
             "encoding": {"x": {"field": "x2", "type": "quantitative", "title": null, "axis": {"values": [1, 2, 3, 4], "labelExpr": "datum.value == 1 || datum.value == 3 ? 'WT' : 'Mrc1−/−'", "labelFontStyle": {"condition": {"test": "datum.value == 2 || datum.value == 4", "value": "italic"}, "value": "normal"}}}, "y": {"field": "y", "type": "quantitative", "title": "Relative levels", "axis": {"values": [0, 0.5, 1, 1.5, 2], "format": ".1f"}}}},
            {"data": {"name": "brackets"}, "transform": [{"filter": "datum.panel == 'd'"}],
             "mark": {"type": "text", "text": "*", "fontSize": 11, "dy": 1, "baseline": "alphabetic", "color": "#000"},
             "encoding": {"x": {"field": "xm", "type": "quantitative", "title": null, "axis": {"values": [1, 2, 3, 4], "labelExpr": "datum.value == 1 || datum.value == 3 ? 'WT' : 'Mrc1−/−'", "labelFontStyle": {"condition": {"test": "datum.value == 2 || datum.value == 4", "value": "italic"}, "value": "normal"}}}, "y": {"field": "y", "type": "quantitative", "title": "Relative levels", "axis": {"values": [0, 0.5, 1, 1.5, 2], "format": ".1f"}}}},
            {"data": {"values": [{"t": "Mrc1", "gx": 2.45, "gy": 2}]},
             "mark": {"type": "text", "fontStyle": "italic", "fontSize": 11.5, "dy": -11, "align": "center", "baseline": "middle", "color": "#000"},
             "encoding": {"x": {"field": "gx", "type": "quantitative", "title": null, "axis": {"values": [1, 2, 3, 4], "labelExpr": "datum.value == 1 || datum.value == 3 ? 'WT' : 'Mrc1−/−'", "labelFontStyle": {"condition": {"test": "datum.value == 2 || datum.value == 4", "value": "italic"}, "value": "normal"}}}, "y": {"field": "gy", "type": "quantitative", "title": "Relative levels", "axis": {"values": [0, 0.5, 1, 1.5, 2], "format": ".1f"}}, "text": {"field": "t"}}},
            {"data": {"values": [{"t": "d", "gx": 0.45, "gy": 2}]},
             "mark": {"type": "text", "fontWeight": "bold", "fontSize": 15, "dx": -42, "dy": -21, "align": "center", "baseline": "middle", "color": "#000"},
             "encoding": {"x": {"field": "gx", "type": "quantitative", "title": null, "axis": {"values": [1, 2, 3, 4], "labelExpr": "datum.value == 1 || datum.value == 3 ? 'WT' : 'Mrc1−/−'", "labelFontStyle": {"condition": {"test": "datum.value == 2 || datum.value == 4", "value": "italic"}, "value": "normal"}}}, "y": {"field": "gy", "type": "quantitative", "title": "Relative levels", "axis": {"values": [0, 0.5, 1, 1.5, 2], "format": ".1f"}}, "text": {"field": "t"}}}
          ]
        },
        {
          "width": 180, "height": 121,
          "layer": [
            {"data": {"name": "bars"}, "transform": [{"filter": "datum.panel == 'e'"}],
             "mark": {"type": "bar", "orient": "vertical", "width": 31, "stroke": "#000", "strokeWidth": 1.3},
             "encoding": {
               "x": {"field": "pos", "type": "quantitative", "title": null, "scale": {"domain": [0.5, 4.55], "nice": false, "zero": false}, "axis": {"values": [1, 2, 3, 4], "labelExpr": "datum.value == 1 || datum.value == 3 ? 'WT' : 'Mrc1−/−'", "labelFontStyle": {"condition": {"test": "datum.value == 2 || datum.value == 4", "value": "italic"}, "value": "normal"}}},
               "y": {"field": "value", "type": "quantitative", "title": "Relative levels", "scale": {"domain": [0, 5], "nice": false}, "axis": {"values": [0, 1, 2, 3, 4, 5]}},
               "fill": {"field": "genotype", "type": "nominal", "scale": {"domain": ["WT", "Mrc1−/−"], "range": ["#000000", "#ffffff"]}, "legend": null}
             }},
            {"data": {"name": "bars"}, "transform": [{"filter": "datum.panel == 'e' && datum.hi != null"}],
             "mark": {"type": "rule", "color": "#000", "strokeWidth": 1.3},
             "encoding": {"x": {"field": "pos", "type": "quantitative", "title": null, "axis": {"values": [1, 2, 3, 4], "labelExpr": "datum.value == 1 || datum.value == 3 ? 'WT' : 'Mrc1−/−'", "labelFontStyle": {"condition": {"test": "datum.value == 2 || datum.value == 4", "value": "italic"}, "value": "normal"}}}, "y": {"field": "value", "type": "quantitative", "title": "Relative levels", "axis": {"values": [0, 1, 2, 3, 4, 5]}}, "y2": {"field": "hi"}}},
            {"data": {"name": "bars"}, "transform": [{"filter": "datum.panel == 'e' && datum.hi != null"}],
             "mark": {"type": "tick", "orient": "horizontal", "size": 16, "thickness": 1.3, "color": "#000"},
             "encoding": {"x": {"field": "pos", "type": "quantitative", "title": null, "axis": {"values": [1, 2, 3, 4], "labelExpr": "datum.value == 1 || datum.value == 3 ? 'WT' : 'Mrc1−/−'", "labelFontStyle": {"condition": {"test": "datum.value == 2 || datum.value == 4", "value": "italic"}, "value": "normal"}}}, "y": {"field": "hi", "type": "quantitative", "title": "Relative levels", "axis": {"values": [0, 1, 2, 3, 4, 5]}}}},
            {"data": {"name": "groups"},
             "mark": {"type": "rule", "yOffset": 23, "color": "#000", "strokeWidth": 1},
             "encoding": {"x": {"field": "x1", "type": "quantitative", "title": null, "axis": {"values": [1, 2, 3, 4], "labelExpr": "datum.value == 1 || datum.value == 3 ? 'WT' : 'Mrc1−/−'", "labelFontStyle": {"condition": {"test": "datum.value == 2 || datum.value == 4", "value": "italic"}, "value": "normal"}}}, "x2": {"field": "x2"}, "y": {"datum": 0, "type": "quantitative", "title": "Relative levels", "axis": {"values": [0, 1, 2, 3, 4, 5]}}}},
            {"data": {"name": "groups"},
             "mark": {"type": "text", "dy": 32, "fontSize": 12, "baseline": "middle", "color": "#000"},
             "encoding": {"x": {"field": "xm", "type": "quantitative", "title": null, "axis": {"values": [1, 2, 3, 4], "labelExpr": "datum.value == 1 || datum.value == 3 ? 'WT' : 'Mrc1−/−'", "labelFontStyle": {"condition": {"test": "datum.value == 2 || datum.value == 4", "value": "italic"}, "value": "normal"}}}, "y": {"datum": 0, "type": "quantitative", "title": "Relative levels", "axis": {"values": [0, 1, 2, 3, 4, 5]}}, "text": {"field": "g"}}},
            {"data": {"name": "brackets"}, "transform": [{"filter": "datum.panel == 'e'"}],
             "mark": {"type": "rule", "color": "#000", "strokeWidth": 1},
             "encoding": {"x": {"field": "x1", "type": "quantitative", "title": null, "axis": {"values": [1, 2, 3, 4], "labelExpr": "datum.value == 1 || datum.value == 3 ? 'WT' : 'Mrc1−/−'", "labelFontStyle": {"condition": {"test": "datum.value == 2 || datum.value == 4", "value": "italic"}, "value": "normal"}}}, "x2": {"field": "x2"}, "y": {"field": "y", "type": "quantitative", "title": "Relative levels", "axis": {"values": [0, 1, 2, 3, 4, 5]}}}},
            {"data": {"name": "brackets"}, "transform": [{"filter": "datum.panel == 'e'"}],
             "mark": {"type": "tick", "orient": "vertical", "size": 6, "thickness": 1, "yOffset": 3, "color": "#000"},
             "encoding": {"x": {"field": "x1", "type": "quantitative", "title": null, "axis": {"values": [1, 2, 3, 4], "labelExpr": "datum.value == 1 || datum.value == 3 ? 'WT' : 'Mrc1−/−'", "labelFontStyle": {"condition": {"test": "datum.value == 2 || datum.value == 4", "value": "italic"}, "value": "normal"}}}, "y": {"field": "y", "type": "quantitative", "title": "Relative levels", "axis": {"values": [0, 1, 2, 3, 4, 5]}}}},
            {"data": {"name": "brackets"}, "transform": [{"filter": "datum.panel == 'e'"}],
             "mark": {"type": "tick", "orient": "vertical", "size": 6, "thickness": 1, "yOffset": 3, "color": "#000"},
             "encoding": {"x": {"field": "x2", "type": "quantitative", "title": null, "axis": {"values": [1, 2, 3, 4], "labelExpr": "datum.value == 1 || datum.value == 3 ? 'WT' : 'Mrc1−/−'", "labelFontStyle": {"condition": {"test": "datum.value == 2 || datum.value == 4", "value": "italic"}, "value": "normal"}}}, "y": {"field": "y", "type": "quantitative", "title": "Relative levels", "axis": {"values": [0, 1, 2, 3, 4, 5]}}}},
            {"data": {"name": "brackets"}, "transform": [{"filter": "datum.panel == 'e'"}],
             "mark": {"type": "text", "text": "*", "fontSize": 11, "dy": 1, "baseline": "alphabetic", "color": "#000"},
             "encoding": {"x": {"field": "xm", "type": "quantitative", "title": null, "axis": {"values": [1, 2, 3, 4], "labelExpr": "datum.value == 1 || datum.value == 3 ? 'WT' : 'Mrc1−/−'", "labelFontStyle": {"condition": {"test": "datum.value == 2 || datum.value == 4", "value": "italic"}, "value": "normal"}}}, "y": {"field": "y", "type": "quantitative", "title": "Relative levels", "axis": {"values": [0, 1, 2, 3, 4, 5]}}}},
            {"data": {"values": [{"t": "miR-511-3p", "gx": 2.48, "gy": 5}]},
             "mark": {"type": "text", "fontSize": 11.5, "dy": -12, "align": "center", "baseline": "middle", "color": "#000"},
             "encoding": {"x": {"field": "gx", "type": "quantitative", "title": null, "axis": {"values": [1, 2, 3, 4], "labelExpr": "datum.value == 1 || datum.value == 3 ? 'WT' : 'Mrc1−/−'", "labelFontStyle": {"condition": {"test": "datum.value == 2 || datum.value == 4", "value": "italic"}, "value": "normal"}}}, "y": {"field": "gy", "type": "quantitative", "title": "Relative levels", "axis": {"values": [0, 1, 2, 3, 4, 5]}}, "text": {"field": "t"}}},
            {"data": {"values": [{"t": "e", "gx": 0.5, "gy": 5}]},
             "mark": {"type": "text", "fontWeight": "bold", "fontSize": 15, "dx": -38, "dy": -21, "align": "center", "baseline": "middle", "color": "#000"},
             "encoding": {"x": {"field": "gx", "type": "quantitative", "title": null, "axis": {"values": [1, 2, 3, 4], "labelExpr": "datum.value == 1 || datum.value == 3 ? 'WT' : 'Mrc1−/−'", "labelFontStyle": {"condition": {"test": "datum.value == 2 || datum.value == 4", "value": "italic"}, "value": "normal"}}}, "y": {"field": "gy", "type": "quantitative", "title": "Relative levels", "axis": {"values": [0, 1, 2, 3, 4, 5]}}, "text": {"field": "t"}}}
          ]
        }
      ]
    }
  ],
  "config": {
    "view": {"stroke": null},
    "font": "Liberation Sans",
    "axis": {"grid": false, "domainColor": "#000", "tickColor": "#000", "labelColor": "#000", "titleColor": "#000", "labelFont": "Liberation Sans", "titleFont": "Liberation Sans", "domainWidth": 1, "tickWidth": 1},
    "axisY": {"labelFontSize": 12, "tickSize": 3, "labelPadding": 3, "titleFontSize": 11.5, "titleFontWeight": "normal", "titlePadding": 7},
    "axisX": {"labelFontSize": 11, "tickSize": 3, "labelPadding": 3, "labelAngle": 0},
    "text": {"font": "Liberation Sans"}
  }
}
